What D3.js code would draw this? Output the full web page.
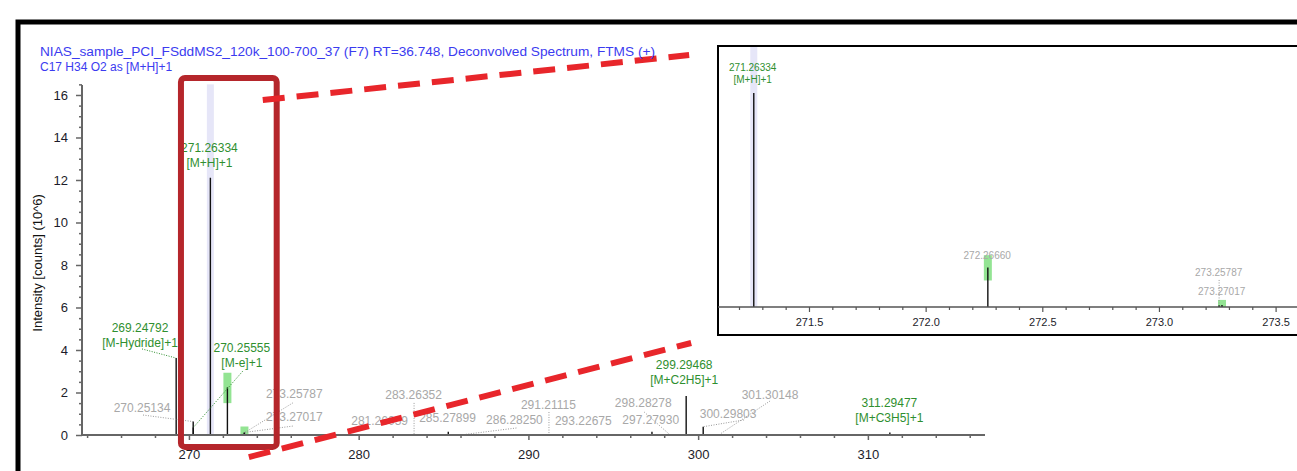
<!DOCTYPE html>
<html>
<head>
<meta charset="utf-8">
<script src="https://cdn.jsdelivr.net/npm/d3@7"></script>
<style>
  html, body { margin: 0; padding: 0; background: #fff; }
  svg { display: block; font-family: "Liberation Sans", Arial, sans-serif; }
</style>
</head>
<body>
<svg id="chart" width="1297" height="471"></svg>
<script>
// peak list (m/z, intensity in 10^6 counts)
const peakMz = [269.24792, 270.25134, 270.25555, 271.26334, 272.26660, 273.25787, 273.27017,
  281.26059, 283.26352, 285.27899, 286.28250, 291.21115, 293.22675, 297.27930, 298.28278,
  299.29468, 300.29803, 301.30148, 311.29477];
const peakInt = [3.62, 0.63, 0.35, 12.1, 2.24, 0.1, 0.12,
  0.03, 0.03, 0.15, 0.03, 0.03, 0.03, 0.15, 0.05,
  1.84, 0.39, 0.05, 0.12];

// labels: text lines and whether the peak is assigned (green) or not (gray)
const labelText = [
  ["269.24792", "[M-Hydride]+1"],
  ["270.25134"],
  ["271.26334", "[M+H]+1"],
  ["270.25555", "[M-e]+1"],
  ["273.25787"],
  ["273.27017"],
  ["281.26059"],
  ["283.26352"],
  ["285.27899"],
  ["286.28250"],
  ["291.21115"],
  ["293.22675"],
  ["298.28278"],
  ["297.27930"],
  ["299.29468", "[M+C2H5]+1"],
  ["300.29803"],
  ["301.30148"],
  ["311.29477", "[M+C3H5]+1"]
];
const labelAssigned = [true, false, true, true, false, false, false, false, false,
  false, false, false, false, false, true, false, false, true];
// which peak each label points at (index into peakMz)
const labelPeak = [0, 1, 3, 2, 5, 6, 7, 8, 9, 10, 11, 12, 14, 13, 15, 16, 17, 18];

// label anchors and leader starts in data units (m/z, intensity)
const labelPos = [
  [267.118, 4.85], [267.235, 1.08], [271.206, 13.32], [273.118, 3.91],
  [276.206, 1.74], [276.206, 0.66], [281.235, 0.47], [283.235, 1.69],
  [285.235, 0.61], [289.176, 0.52], [291.176, 1.22], [293.235, 0.47],
  [296.765, 1.32], [297.206, 0.52], [299.176, 3.11], [301.765, 0.80],
  [304.235, 1.69], [311.265, 1.32]
];
const leaderFrom = [
  [267.235, 4.05], [267.294, 0.94], null, [273.176, 3.01],
  [276.118, 1.51], [276.118, 0.42], null, [283.26352, 1.51],
  null, [289.294, 0.33], [291.21115, 1.08], null,
  [296.824, 1.08], null, null, [302.706, 0.71],
  [304.235, 1.6], null
];

// green isotope boxes and the lavender highlight band (m/z, low, high)
const isoMz = [272.26660, 273.27017];
const isoLo = [1.5, 0];
const isoHi = [2.93, 0.4];
const bandMz = 271.26334;
const bandHi = 16.5;

// inset (zoomed) labels
const insetText = [["271.26334", "[M+H]+1"], ["272.26660"], ["273.25787"], ["273.27017"]];
const insetAssigned = [true, false, false, false];
const insetPos = [[271.2587, 13.33], [272.2638, 2.71], [273.256, 1.75], [273.2688, 0.68]];
const insetLeader = [null, null, [273.25787, 1.53], null];
const insetLeaderPeak = [null, null, 5, null];

const xMajor = d3.range(270, 311, 10);
const xMinor = d3.range(264, 317, 2).filter(v => v % 10 !== 0);
const yMajor = d3.range(0, 17, 2);
const yMinor = d3.range(0, 16.6, 0.5).filter(v => v % 2 !== 0);
const xiMajor = [271.5, 272.0, 272.5, 273.0, 273.5];
const xiMinor = d3.range(271.2, 273.65, 0.1).filter(v => Math.abs(v * 2 - Math.round(v * 2)) > 0.01);

const titleLines = [
  "NIAS_sample_PCI_FSddMS2_120k_100-700_37 (F7) RT=36.748, Deconvolved Spectrum, FTMS (+)",
  "C17 H34 O2 as [M+H]+1"
];

const green = "#2f8f2f", gray = "#a8a8a8";
const svg = d3.select("#chart");

// outer frame
svg.append("rect")
  .attr("x", 18).attr("y", 22).attr("width", 1400).attr("height", 600)
  .attr("fill", "#fff").attr("stroke", "#000").attr("stroke-width", 5);

const x = d3.scaleLinear().domain([263.7, 316.9]).range([82, 985]);
const y = d3.scaleLinear().domain([0, 16.47]).range([435, 85]);

const main = svg.append("g");

// lavender band behind base peak
main.append("rect")
  .attr("x", x(bandMz) - 3.5).attr("width", 7)
  .attr("y", y(bandHi)).attr("height", y(0) - y(bandHi))
  .attr("fill", "#e6e6f8");

// isotope boxes
main.selectAll("rect.iso").data(isoMz).join("rect")
  .attr("class", "iso")
  .attr("x", d => x(d) - 4).attr("width", 8)
  .attr("y", (d, i) => y(isoHi[i])).attr("height", (d, i) => y(isoLo[i]) - y(isoHi[i]))
  .attr("fill", "#93e493");

// peaks
main.selectAll("line.peak").data(peakMz).join("line")
  .attr("class", "peak")
  .attr("x1", d => x(d)).attr("x2", d => x(d))
  .attr("y1", y(0)).attr("y2", (d, i) => y(peakInt[i]))
  .attr("stroke", "#111").attr("stroke-width", 1.4);

// leaders
labelPos.forEach((p, i) => {
  const f = leaderFrom[i];
  if (!f) return;
  const k = labelPeak[i];
  main.append("line")
    .attr("x1", x(f[0])).attr("y1", y(f[1]))
    .attr("x2", x(peakMz[k])).attr("y2", y(peakInt[k]))
    .attr("stroke", labelAssigned[i] ? green : "#999")
    .attr("stroke-width", 1)
    .attr("stroke-dasharray", "1,1.5");
});

// labels
labelText.forEach((lines, i) => {
  const t = main.append("text")
    .attr("x", x(labelPos[i][0])).attr("y", y(labelPos[i][1]))
    .attr("text-anchor", "middle").attr("font-size", 12)
    .attr("fill", labelAssigned[i] ? green : gray);
  lines.forEach((s, j) => {
    t.append("tspan").attr("x", x(labelPos[i][0])).attr("dy", j ? 15 : 0).text(s);
  });
});

// axes
const axisColor = "#666";
const xAxis = main.append("g").attr("transform", `translate(0,${y(0)})`)
  .call(d3.axisBottom(x).tickValues(xMajor).tickSize(5).tickPadding(10).tickFormat(d3.format("d")));
main.append("g").attr("transform", `translate(0,${y(0)})`)
  .call(d3.axisBottom(x).tickValues(xMinor).tickSize(3).tickFormat(""))
  .select(".domain").remove();
const yAxis = main.append("g").attr("transform", `translate(${x.range()[0]},0)`)
  .call(d3.axisLeft(y).tickValues(yMajor).tickSize(6).tickPadding(8));
main.append("g").attr("transform", `translate(${x.range()[0]},0)`)
  .call(d3.axisLeft(y).tickValues(yMinor).tickSize(3).tickFormat(""))
  .select(".domain").remove();

main.selectAll(".domain").attr("stroke", axisColor).attr("stroke-width", 2);
xAxis.select(".domain").attr("d", `M${x.range()[0]},0H${x.range()[1]}`);
yAxis.select(".domain").attr("d", `M0,${y.range()[1]}V${y.range()[0]}`);
main.selectAll(".tick line").attr("stroke", axisColor).attr("stroke-width", 1.5);
main.selectAll(".tick text").attr("fill", "#1c1c2a").attr("font-size", 13)
  .attr("font-family", "Liberation Sans, Arial, sans-serif");

// y axis title
main.append("text")
  .attr("transform", `translate(42,${y(8.1)}) rotate(-90)`)
  .attr("text-anchor", "middle").attr("font-size", 13).attr("fill", "#111")
  .text("Intensity [counts] (10^6)");

// zoom box and dashed connectors (in data units)
main.append("rect")
  .attr("x", x(269.53)).attr("y", y(16.8))
  .attr("width", x(275.17) - x(269.53)).attr("height", y(-0.56) - y(16.8))
  .attr("rx", 4).attr("fill", "none")
  .attr("stroke", "#b5262b").attr("stroke-width", 6);

const connectors = [[[274.35, 15.76], [299.47, 17.88]], [[273.53, -1.04], [299.59, 4.33]]];
main.selectAll("line.conn").data(connectors).join("line")
  .attr("class", "conn")
  .attr("x1", d => x(d[0][0])).attr("y1", d => y(d[0][1]))
  .attr("x2", d => x(d[1][0])).attr("y2", d => y(d[1][1]))
  .attr("stroke", "#e8262b").attr("stroke-width", 6)
  .attr("stroke-dasharray", "22,12");

// title on top (first line is drawn wider in the original)
svg.selectAll("text.title").data(titleLines).join("text")
  .attr("class", "title")
  .attr("x", 40).attr("y", (d, i) => 56 + i * 15)
  .attr("fill", "#3b3bf0").attr("font-size", 12)
  .attr("textLength", (d, i) => i === 0 ? 615 : null)
  .attr("lengthAdjust", "spacingAndGlyphs")
  .text(d => d);

// inset
const xi = d3.scaleLinear().domain([271.11, 273.65]).range([718, 1310.6]);
const yi = d3.scaleLinear().domain([0, 14.7]).range([307, 47]);

const inset = svg.append("g");
inset.append("rect")
  .attr("x", 718).attr("y", 46).attr("width", 700).attr("height", 289)
  .attr("fill", "#fff").attr("stroke", "#000").attr("stroke-width", 2);

inset.append("rect")
  .attr("x", xi(bandMz) - 3.5).attr("width", 7)
  .attr("y", yi(14.7)).attr("height", yi(0) - yi(14.7))
  .attr("fill", "#e6e6f8");

inset.selectAll("rect.iso").data(isoMz).join("rect")
  .attr("class", "iso")
  .attr("x", d => xi(d) - 4).attr("width", 8)
  .attr("y", (d, i) => yi(isoHi[i])).attr("height", (d, i) => yi(isoLo[i]) - yi(isoHi[i]))
  .attr("fill", "#93e493");

const inWin = peakMz.map((m, i) => i).filter(i => peakMz[i] > 271.11 && peakMz[i] < 273.65);
inset.selectAll("line.peak").data(inWin).join("line")
  .attr("class", "peak")
  .attr("x1", i => xi(peakMz[i])).attr("x2", i => xi(peakMz[i]))
  .attr("y1", yi(0)).attr("y2", i => yi(peakInt[i]))
  .attr("stroke", "#111").attr("stroke-width", 1.4);

insetLeader.forEach((f, i) => {
  if (!f) return;
  const k = insetLeaderPeak[i];
  inset.append("line")
    .attr("x1", xi(f[0])).attr("y1", yi(f[1]))
    .attr("x2", xi(peakMz[k])).attr("y2", yi(peakInt[k]))
    .attr("stroke", "#999").attr("stroke-width", 1)
    .attr("stroke-dasharray", "1,1.5");
});

insetText.forEach((lines, i) => {
  const t = inset.append("text")
    .attr("x", xi(insetPos[i][0])).attr("y", yi(insetPos[i][1]))
    .attr("text-anchor", "middle").attr("font-size", 10)
    .attr("fill", insetAssigned[i] ? green : gray);
  lines.forEach((s, j) => {
    t.append("tspan").attr("x", xi(insetPos[i][0])).attr("dy", j ? 12 : 0).text(s);
  });
});

const xiAxis = inset.append("g").attr("transform", `translate(0,${yi(0)})`)
  .call(d3.axisBottom(xi).tickValues(xiMajor).tickSize(5).tickPadding(6).tickFormat(d3.format(".1f")));
inset.append("g").attr("transform", `translate(0,${yi(0)})`)
  .call(d3.axisBottom(xi).tickValues(xiMinor).tickSize(3).tickFormat(""))
  .select(".domain").remove();
xiAxis.select(".domain").attr("d", `M${xi.range()[0]},0H${xi.range()[1]}`)
  .attr("stroke", "#555").attr("stroke-width", 1.5);
inset.selectAll(".tick line").attr("stroke", "#555").attr("stroke-width", 1.2);
inset.selectAll(".tick text").attr("fill", "#1c1c2a").attr("font-size", 11)
  .attr("font-family", "Liberation Sans, Arial, sans-serif");
</script>
</body>
</html>
